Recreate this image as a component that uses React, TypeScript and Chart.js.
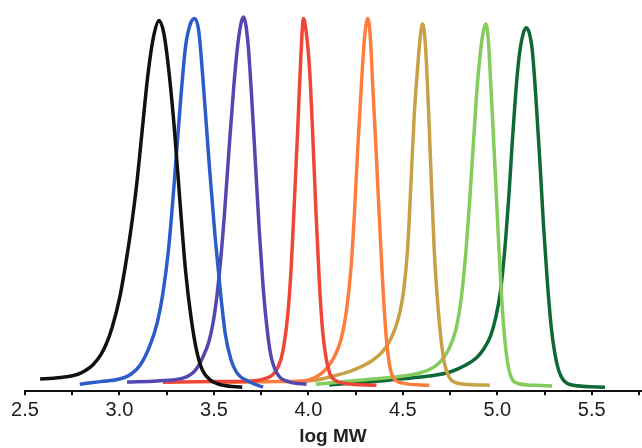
import React, { useEffect, useRef } from 'react';
import { Chart, registerables } from 'chart.js';

Chart.register(...registerables);

// log MW range and tick settings
const xMin = 2.5;
const xMax = 5.76;
const tickStep = 0.25;
const axisTitle = 'log MW';

// Normalised distribution curves: [log MW, relative intensity]
const blackCurve: [number, number][] = [
  [2.58, 0.027], [2.65, 0.029], [2.72, 0.033], [2.78, 0.04], [2.82, 0.05], [2.86, 0.066],
  [2.9, 0.092], [2.93, 0.122], [2.96, 0.165], [3.0, 0.245], [3.03, 0.33], [3.06, 0.43],
  [3.09, 0.55], [3.12, 0.7], [3.15, 0.85], [3.18, 0.955], [3.21, 1.0], [3.235, 0.965],
  [3.26, 0.87], [3.29, 0.71], [3.32, 0.51], [3.35, 0.32], [3.38, 0.19], [3.41, 0.1],
  [3.44, 0.05], [3.48, 0.025], [3.55, 0.01], [3.65, 0.005],
];
const blueCurve: [number, number][] = [
  [2.79, 0.013], [2.9, 0.02], [3.0, 0.027], [3.06, 0.04], [3.11, 0.065], [3.16, 0.116],
  [3.2, 0.18], [3.23, 0.26], [3.26, 0.38], [3.29, 0.56], [3.32, 0.76], [3.35, 0.93],
  [3.375, 0.99], [3.398, 1.005], [3.42, 0.97], [3.445, 0.82], [3.475, 0.61], [3.505, 0.42],
  [3.535, 0.26], [3.56, 0.15], [3.59, 0.08], [3.62, 0.045], [3.69, 0.019], [3.76, 0.005],
];
const purpleCurve: [number, number][] = [
  [3.04, 0.019], [3.2, 0.022], [3.34, 0.03], [3.4, 0.05], [3.44, 0.085], [3.477, 0.135],
  [3.505, 0.21], [3.53, 0.32], [3.555, 0.47], [3.58, 0.65], [3.605, 0.82], [3.63, 0.95],
  [3.657, 1.009], [3.68, 0.94], [3.7, 0.79], [3.72, 0.61], [3.74, 0.43], [3.76, 0.28],
  [3.78, 0.17], [3.8, 0.095], [3.83, 0.046], [3.9, 0.019], [3.99, 0.013],
];
const redCurve: [number, number][] = [
  [3.23, 0.018], [3.5, 0.02], [3.7, 0.022], [3.77, 0.028], [3.81, 0.038], [3.84, 0.06],
  [3.864, 0.1], [3.89, 0.197], [3.909, 0.33], [3.926, 0.51], [3.944, 0.71], [3.96, 0.9],
  [3.974, 1.005], [3.988, 0.97], [4.006, 0.87], [4.023, 0.69], [4.041, 0.47], [4.058, 0.29],
  [4.076, 0.154], [4.095, 0.08], [4.115, 0.04], [4.14, 0.024], [4.2, 0.015], [4.36, 0.01],
];
const orangeCurve: [number, number][] = [
  [3.55, 0.018], [3.85, 0.02], [3.99, 0.023], [4.05, 0.035], [4.1, 0.058], [4.14, 0.09],
  [4.173, 0.135], [4.2, 0.207], [4.226, 0.33], [4.243, 0.47], [4.261, 0.65], [4.279, 0.81],
  [4.296, 0.946], [4.314, 1.005], [4.327, 0.96], [4.34, 0.83], [4.358, 0.65], [4.375, 0.47],
  [4.393, 0.29], [4.41, 0.154], [4.428, 0.07], [4.45, 0.03], [4.5, 0.016], [4.64, 0.01],
];
const tanCurve: [number, number][] = [
  [3.9, 0.018], [4.05, 0.025], [4.13, 0.035], [4.22, 0.048], [4.29, 0.063], [4.34, 0.078],
  [4.39, 0.1], [4.43, 0.13], [4.46, 0.165], [4.485, 0.21], [4.505, 0.27], [4.525, 0.378],
  [4.543, 0.56], [4.56, 0.74], [4.578, 0.87], [4.593, 0.96], [4.604, 0.99], [4.617, 0.95],
  [4.63, 0.83], [4.648, 0.6], [4.666, 0.378], [4.683, 0.243], [4.701, 0.14], [4.72, 0.07],
  [4.745, 0.032], [4.78, 0.017], [4.85, 0.012], [4.96, 0.01],
];
const lightGreenCurve: [number, number][] = [
  [4.04, 0.013], [4.3, 0.025], [4.5, 0.035], [4.6, 0.045], [4.66, 0.058], [4.7, 0.075],
  [4.74, 0.105], [4.78, 0.16], [4.81, 0.25], [4.835, 0.38], [4.855, 0.52], [4.875, 0.68],
  [4.895, 0.83], [4.912, 0.92], [4.928, 0.975], [4.939, 0.99], [4.952, 0.95], [4.965, 0.83],
  [4.983, 0.65], [5.0, 0.47], [5.018, 0.29], [5.036, 0.154], [5.055, 0.07], [5.075, 0.03],
  [5.11, 0.015], [5.2, 0.01], [5.29, 0.008],
];
const darkGreenCurve: [number, number][] = [
  [4.11, 0.011], [4.3, 0.018], [4.48, 0.027], [4.64, 0.035], [4.75, 0.046], [4.833, 0.065],
  [4.89, 0.085], [4.93, 0.11], [4.965, 0.145], [4.99, 0.19], [5.018, 0.27], [5.044, 0.405],
  [5.062, 0.53], [5.08, 0.676], [5.097, 0.8], [5.115, 0.9], [5.135, 0.96], [5.153, 0.98],
  [5.17, 0.965], [5.185, 0.92], [5.203, 0.8], [5.225, 0.62], [5.245, 0.44], [5.265, 0.29],
  [5.285, 0.17], [5.305, 0.095], [5.325, 0.05], [5.35, 0.024], [5.4, 0.01], [5.57, 0.005],
];

const curves = [blackCurve, blueCurve, purpleCurve, redCurve, orangeCurve, tanCurve, lightGreenCurve, darkGreenCurve];
const curveColors = ['#111111', '#2b5cc8', '#5547b0', '#f04637', '#ff7d3c', '#c8a046', '#84cc5c', '#0f6937'];

const FONT = '"Liberation Sans", Arial, Helvetica, sans-serif';

export default function App() {
  const ref = useRef<HTMLCanvasElement>(null);

  useEffect(() => {
    if (!ref.current) return;
    const chart = new Chart(ref.current, {
      type: 'line',
      data: {
        datasets: curves.map((c, i) => ({
          label: 'S' + (i + 1),
          data: c.map(([x, y]) => ({ x, y })),
          borderColor: curveColors[i],
          backgroundColor: curveColors[i],
          borderWidth: 3.5,
          pointRadius: 0,
          fill: false,
          cubicInterpolationMode: 'monotone' as const,
        })),
      },
      options: {
        animation: false,
        responsive: false,
        layout: { padding: { left: 25, right: 0, top: 2, bottom: 0 } },
        plugins: { legend: { display: false }, tooltip: { enabled: false } },
        scales: {
          x: {
            type: 'linear',
            min: xMin,
            max: xMax,
            border: { display: true, color: '#111', width: 2 },
            grid: { drawOnChartArea: false, drawTicks: true, tickLength: 4, color: '#111', lineWidth: 2 },
            ticks: {
              stepSize: tickStep,
              includeBounds: false,
              autoSkip: false,
              maxRotation: 0,
              padding: 3,
              color: '#222',
              font: { family: FONT, size: 20 },
              callback: (v: any) => {
                const n = Number(v);
                return Math.abs(n * 2 - Math.round(n * 2)) < 1e-6 ? n.toFixed(1) : '';
              },
            },
            title: {
              display: true,
              text: axisTitle,
              color: '#222',
              font: { family: FONT, size: 19, weight: 'bold' },
              padding: { top: 0, bottom: 0 },
            },
          },
          y: { display: false, min: -0.006, max: 1.05 },
        },
      },
    });
    return () => chart.destroy();
  }, []);

  return (
    <div style={{ position: 'fixed', left: 0, top: 0, width: 642, height: 448, background: '#fff' }}>
      <canvas ref={ref} width={642} height={448} />
    </div>
  );
}
